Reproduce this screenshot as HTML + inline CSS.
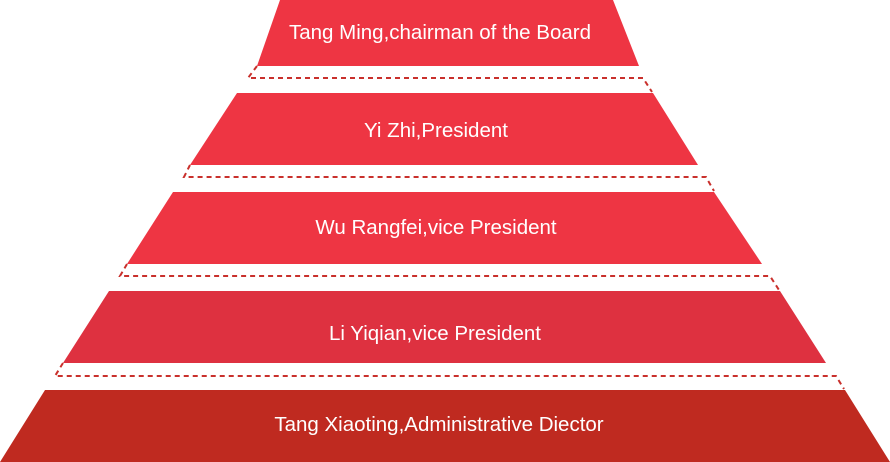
<!DOCTYPE html>
<html><head><meta charset="utf-8"><style>
html,body{margin:0;padding:0;background:#fff;}
svg{display:block;}
text{font-family:"Liberation Sans",sans-serif;font-size:20.5px;fill:#fff;text-anchor:middle;}
</style></head><body>
<svg width="890" height="462" viewBox="0 0 890 462">
<g fill="none" stroke="#c9302c" stroke-width="2" stroke-dasharray="5,4">
<polyline points="257,66 248,78 643,78 652,92"/>
<polyline points="190,165 184,177 706,177 714,191"/>
<polyline points="127,264 120,276 770,276 779,290"/>
<polyline points="63,363 55,376 836,376 844,389"/>
</g>
<polygon points="280,0 613,0 639,66 257,66" fill="#ee3543"/>
<polygon points="237,93 653,93 698,165 190,165" fill="#ee3543"/>
<polygon points="173,192 714,192 762,264 127,264" fill="#ee3543"/>
<polygon points="109,291 780,291 826,363 63,363" fill="#de3140"/>
<polygon points="45,390 845,390 890,462 0,462" fill="#bf2a20"/>
<text x="440" y="39">Tang Ming,chairman of the Board</text>
<text x="436" y="137">Yi Zhi,President</text>
<text x="436" y="234">Wu Rangfei,vice President</text>
<text x="435" y="340">Li Yiqian,vice President</text>
<text x="439" y="431">Tang Xiaoting,Administrative Diector</text>
</svg>
</body></html>
